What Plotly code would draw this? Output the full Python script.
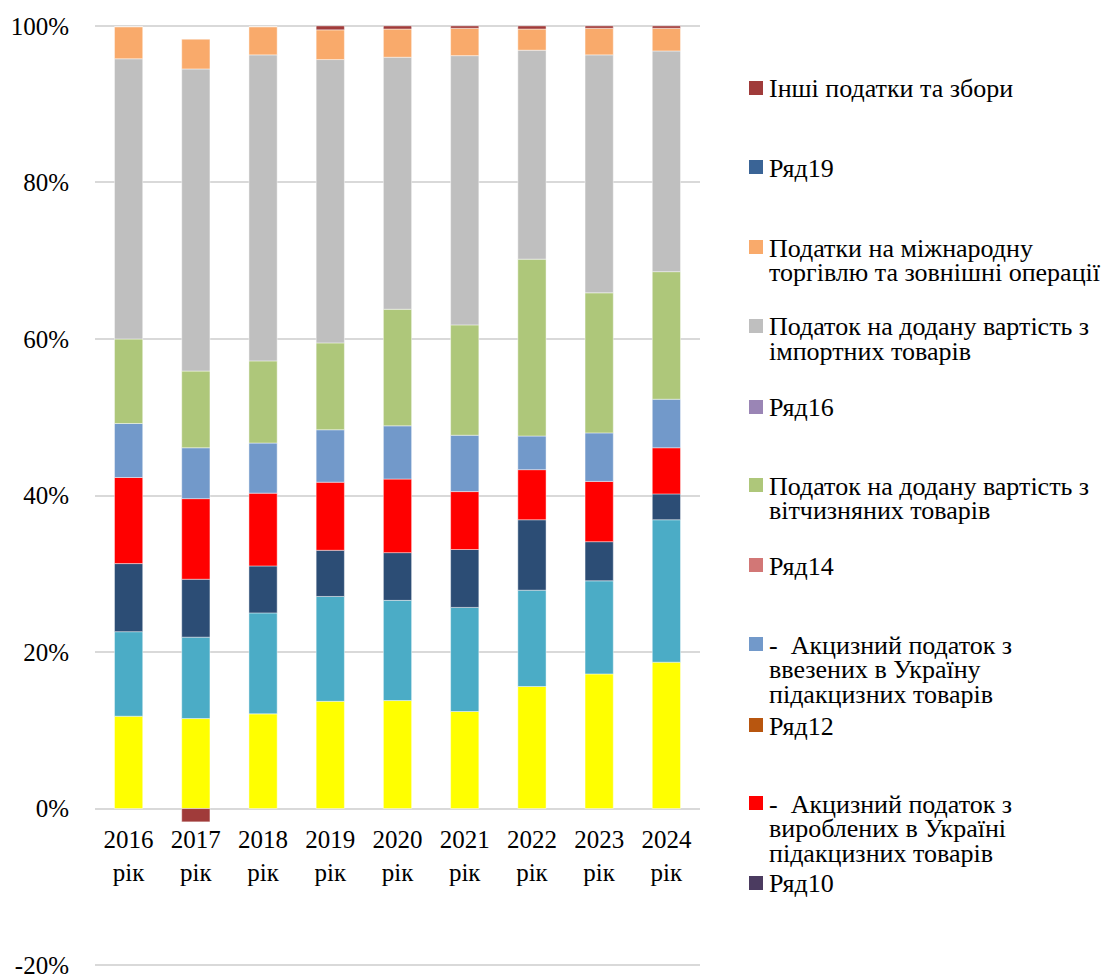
import plotly.graph_objects as go

years = ["2016<br>рік", "2017<br>рік", "2018<br>рік", "2019<br>рік", "2020<br>рік",
         "2021<br>рік", "2022<br>рік", "2023<br>рік", "2024<br>рік"]

# Shares of tax revenue, % (stacked from the bottom up)
s_yellow = [11.8, 11.5, 12.1, 13.7, 13.8, 12.4, 15.6, 17.2, 18.7]
s_teal = [10.8, 10.4, 12.9, 13.4, 12.8, 13.3, 12.3, 11.9, 18.2]
s_navy = [8.7, 7.4, 6.0, 5.9, 6.1, 7.4, 9.0, 5.0, 3.3]
excise_domestic = [11.0, 10.3, 9.3, 8.7, 9.4, 7.4, 6.4, 7.7, 5.9]
excise_import = [6.9, 6.5, 6.4, 6.7, 6.8, 7.2, 4.3, 6.2, 6.2]
vat_domestic = [10.8, 9.8, 10.5, 11.1, 14.9, 14.1, 22.6, 17.9, 16.3]
vat_import = [35.8, 38.6, 39.1, 36.2, 32.2, 34.4, 26.7, 30.4, 28.2]
foreign_trade = [4.1, 3.8, 3.6, 3.8, 3.6, 3.5, 2.7, 3.4, 2.9]
other_taxes = [0.0, -1.7, 0.0, 0.5, 0.4, 0.3, 0.4, 0.3, 0.3]
empty_series = [0, 0, 0, 0, 0, 0, 0, 0, 0]

y_ticks = [-20, 0, 20, 40, 60, 80, 100]
y_tick_text = ["-20%", "0%", "20%", "40%", "60%", "80%", "100%"]

FONT = "Liberation Serif"
LEGEND_SIZE = 26
LEGEND_LINE = 24.5

# (legend lines, values, colour, shown in legend, first-line y of the legend entry in px)
series = [
    (["Ряд1"], s_yellow, "#FFFF00", False, None),
    (["Ряд2"], s_teal, "#4BACC6", False, None),
    (["Ряд3"], s_navy, "#2C4D75", False, None),
    (["Ряд10"], empty_series, "#4B3B60", True, 883),
    (["-  Акцизний податок з", "вироблених в Україні", "підакцизних товарів"],
     excise_domestic, "#FF0000", True, 803),
    (["Ряд12"], empty_series, "#B8560F", True, 725),
    (["-  Акцизний податок з", "ввезених в Україну", "підакцизних товарів"],
     excise_import, "#7299CA", True, 644),
    (["Ряд14"], empty_series, "#D27776", True, 565),
    (["Податок на додану вартість з", "вітчизняних товарів"], vat_domestic, "#AEC77A", True, 485),
    (["Ряд16"], empty_series, "#9A85B5", True, 407),
    (["Податок на додану вартість з", "імпортних товарів"], vat_import, "#BFBFBF", True, 326),
    (["Податки на міжнародну", "торгівлю та зовнішні операції"], foreign_trade, "#F9AA6B", True, 247),
    (["Ряд19"], empty_series, "#3A6496", True, 167),
    (["Інші податки та збори"], other_taxes, "#A03B3A", True, 88),
]

W, H = 1109, 974
Y_MIN, Y_MAX = -20.5, 100.5          # a little headroom so the -20% and 100% grid lines show
PX_PER_UNIT = (965 - 26) / 120.0
L, R = 95, 409
T = round(26 - (Y_MAX - 100) * PX_PER_UNIT)
B = round(H - (965 + (-20 - Y_MIN) * PX_PER_UNIT))
plot_w = W - L - R
plot_h = H - T - B


def x_px_to_paper(px):
    return (px - L) / plot_w


def y_px_to_paper(px):
    return (H - B - px) / plot_h


fig = go.Figure()
shapes = []
annotations = []
for lines, vals, color, show, line1_y in series:
    empty = all(v == 0 for v in vals)
    fig.add_trace(go.Bar(
        x=years, y=vals, name=" ".join(lines), showlegend=False,
        marker=dict(color=color,
                    line=dict(color="rgba(255,255,255,0.55)", width=0 if empty else 0.8)),
    ))
    if not show:
        continue
    # legend key: a small colour square beside the first text line
    shapes.append(dict(
        type="rect", xref="paper", yref="paper", layer="above",
        x0=x_px_to_paper(749), x1=x_px_to_paper(763),
        y0=y_px_to_paper(line1_y + 7), y1=y_px_to_paper(line1_y - 7),
        fillcolor=color, line=dict(width=0),
    ))
    for i, text in enumerate(lines):
        annotations.append(dict(
            text=text, xref="paper", yref="paper", showarrow=False,
            x=x_px_to_paper(767), y=y_px_to_paper(line1_y + i * LEGEND_LINE + 1),
            xanchor="left", yanchor="middle",
            font=dict(family=FONT, size=LEGEND_SIZE, color="#000000"),
        ))

fig.update_layout(
    width=W, height=H,
    margin=dict(l=L, r=R, t=T, b=B, autoexpand=False),
    barmode="relative",
    bargap=0.58,
    showlegend=False,
    plot_bgcolor="#FFFFFF", paper_bgcolor="#FFFFFF",
    font=dict(family=FONT, size=25, color="#000000"),
    shapes=shapes,
    annotations=annotations,
)

fig.update_yaxes(
    range=[Y_MIN, Y_MAX], tickvals=y_ticks, ticktext=y_tick_text,
    showgrid=True, gridcolor="#D9D9D9", gridwidth=1.5,
    zeroline=False, showline=False,
    ticks="outside", ticklen=20, tickcolor="rgba(0,0,0,0)",
    ticklabeloverflow="allow",
    tickfont=dict(family=FONT, size=25, color="#000000"),
)
fig.update_xaxes(
    anchor="free", position=y_px_to_paper(809),
    showgrid=False, zeroline=False, showline=False,
    ticks="outside", ticklen=8, tickcolor="rgba(0,0,0,0)",
    tickfont=dict(family=FONT, size=25, color="#000000"),
)

fig.write_html("out.html")
